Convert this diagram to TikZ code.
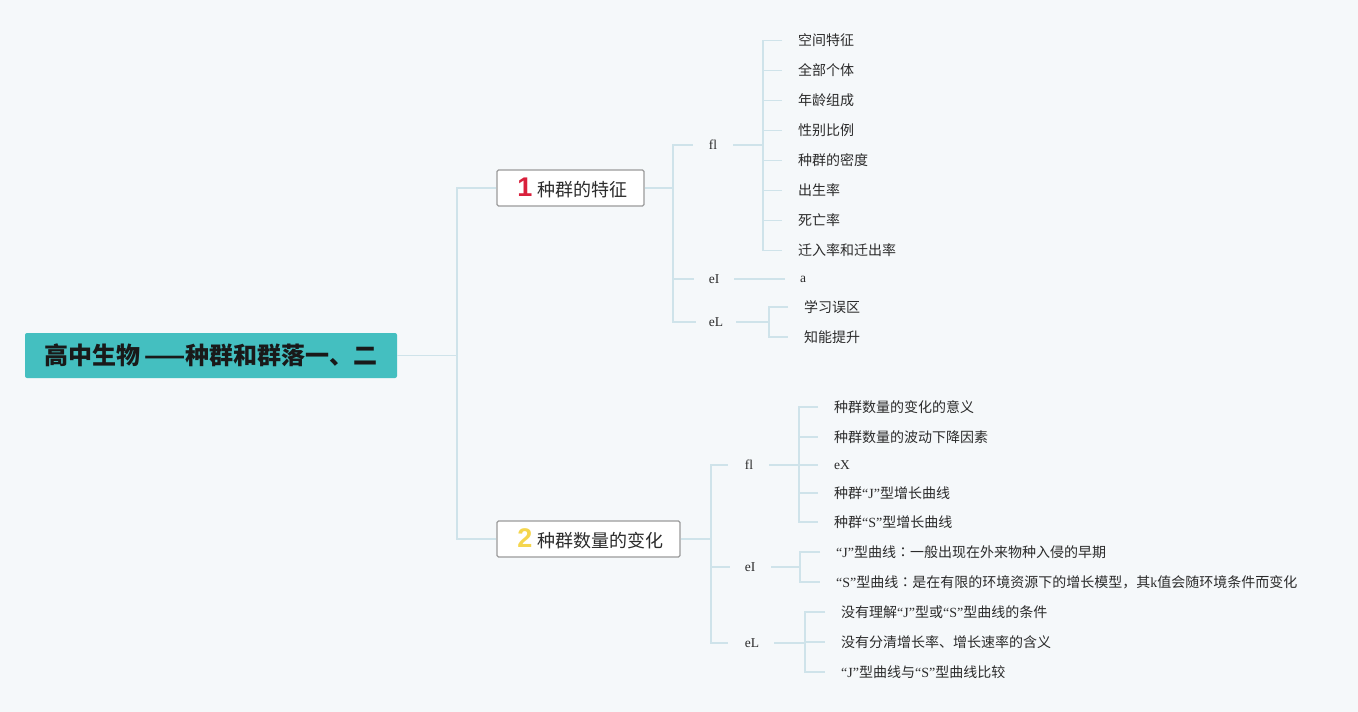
\documentclass[tikz,border=0pt]{standalone}
\usepackage{fontspec}
\setmainfont{Liberation Serif}
\newfontfamily\cjk{Noto Sans CJK SC}
\newfontfamily\cjktc{Noto Sans CJK TC}
\newfontfamily\numf{Liberation Sans}
\definecolor{bgc}{HTML}{F5F8FA}
\definecolor{linec}{HTML}{CFE3EA}
\definecolor{rootc}{HTML}{44BFC0}
\definecolor{bordc}{HTML}{9B9B9B}
\definecolor{redn}{HTML}{D9203C}
\definecolor{yelln}{HTML}{F5D64E}
\definecolor{txt}{HTML}{2B2B2B}
\newcommand\qt[1]{{\rmfamily “#1”}}
\newcommand\cco{{\cjktc ：}}
\begin{document}
\begin{tikzpicture}[x=1pt,y=-1pt,
  conn/.style={draw=linec, line width=1.3pt},
  leaf/.style={anchor=west, inner sep=0pt, text=txt, font=\cjk\fontsize{14}{16}\selectfont},
  lab/.style={inner sep=0pt, minimum width=40, minimum height=14, text=txt, font=\rmfamily\fontsize{13.5}{15}\selectfont},
  topic/.style={draw=bordc, line width=1.3pt, fill=white, rounded corners=1.5pt, minimum height=36, inner sep=0pt, text=txt, font=\cjk\fontsize{18}{20}\selectfont}]
\fill[bgc] (0,0) rectangle (1358,712);
\useasboundingbox (0,0) rectangle (1358,712);
% root and topics
\node[fill=rootc, rounded corners=2pt, minimum width=372, minimum height=45, inner sep=0pt, text=black!90,
      font=\cjk\bfseries\fontsize{24}{26}\selectfont] (root) at (211,355.5) {高中生物\hspace{4pt}——种群和群落一、二};
\node[topic, minimum width=147] (t1) at (570.5,188) {\hspace{4pt}{\numf\bfseries\fontsize{27}{27}\selectfont\color{redn}1}\hspace{5pt}种群的特征};
\node[topic, minimum width=183] (t2) at (588.5,539) {\hspace{4pt}{\numf\bfseries\fontsize{27}{27}\selectfont\color{yelln}2}\hspace{5pt}种群数量的变化};
% bus coordinates
\coordinate (b0) at (457,0);
\coordinate (b1) at (673,0);
\coordinate (b2) at (711,0);
% topic 1 labels
\node[lab] (a1) at (713,145) {fl};
\node[lab] (a2) at (714,279) {eI};
\node[lab] (a3) at (716,322) {eL};
% topic 1 leaves
\coordinate (ba1) at (763,0);
\node[leaf] (l1) at (798,40.5) {空间特征};
\node[leaf] (l2) at (798,70.5) {全部个体};
\node[leaf] (l3) at (798,100.5) {年龄组成};
\node[leaf] (l4) at (798,130.5) {性别比例};
\node[leaf] (l5) at (798,160.5) {种群的密度};
\node[leaf] (l6) at (798,190.5) {出生率};
\node[leaf] (l7) at (798,220.5) {死亡率};
\node[leaf] (l8) at (798,250.5) {迁入率和迁出率};
\node[leaf, font=\rmfamily\fontsize{13.5}{15}\selectfont] (la) at (800,279) {a};
\coordinate (ba3) at (769,0);
\node[leaf] (m1) at (804,307) {学习误区};
\node[leaf] (m2) at (804,337) {知能提升};
% topic 2 labels
\node[lab] (c1) at (749,465) {fl};
\node[lab] (c2) at (750,567) {eI};
\node[lab] (c3) at (752,643) {eL};
\coordinate (bc1) at (799,0);
\coordinate (bc2) at (800,0);
\coordinate (bc3) at (805,0);
\node[leaf] (n1) at (834,407) {种群数量的变化的意义};
\node[leaf] (n2) at (834,437) {种群数量的波动下降因素};
\node[leaf, font=\rmfamily\fontsize{13.5}{15}\selectfont] (n3) at (834,465) {eX};
\node[leaf] (n4) at (834,493) {种群\qt{J}型增长曲线};
\node[leaf] (n5) at (834,522) {种群\qt{S}型增长曲线};
\node[leaf] (p1) at (836,552) {\qt{J}型曲线\cco 一般出现在外来物种入侵的早期};
\node[leaf] (p2) at (836,582) {\qt{S}型曲线\cco 是在有限的环境资源下的增长模型，其{\rmfamily k}值会随环境条件而变化};
\node[leaf] (q1) at (841,612) {没有理解\qt{J}型或\qt{S}型曲线的条件};
\node[leaf] (q2) at (841,642) {没有分清增长率、增长速率的含义};
\node[leaf] (q3) at (841,672) {\qt{J}型曲线与\qt{S}型曲线比较};
% connectors: root
\draw[conn] (root.east) -- (b0 |- root.east);
\draw[conn] (t1.west) -- (b0 |- t1.west) -- (b0 |- t2.west) -- (t2.west);
% topic 1
\draw[conn] (t1.east) -- (b1 |- t1.east);
\draw[conn] (a1.west) -- (b1 |- a1.west) -- (b1 |- a3.west) -- (a3.west);
\draw[conn] (b1 |- a2.west) -- (a2.west);
\draw[conn] (a1.east) -- (ba1 |- a1.east);
\draw[conn] ([xshift=-16pt]l1.west) -- (ba1 |- l1.west) -- (ba1 |- l8.west) -- ([xshift=-16pt]l8.west);
\foreach \n in {l2,l3,l4,l5,l6,l7} \draw[conn] (ba1 |- \n.west) -- ([xshift=-16pt]\n.west);
\draw[conn] (a2.east) -- ([xshift=-15pt]la.west);
\draw[conn] (a3.east) -- (ba3 |- a3.east);
\draw[conn] ([xshift=-16pt]m1.west) -- (ba3 |- m1.west) -- (ba3 |- m2.west) -- ([xshift=-16pt]m2.west);
% topic 2
\draw[conn] (t2.east) -- (b2 |- t2.east);
\draw[conn] ([xshift=-1pt]c1.west) -- (b2 |- c1.west) -- (b2 |- c3.west) -- ([xshift=-4pt]c3.west);
\draw[conn] (b2 |- c2.west) -- (c2.west);
\draw[conn] (c1.east) -- (bc1 |- c1.east);
\draw[conn] ([xshift=-16pt]n1.west) -- (bc1 |- n1.west) -- (bc1 |- n5.west) -- ([xshift=-16pt]n5.west);
\foreach \n in {n2,n3,n4} \draw[conn] (bc1 |- \n.west) -- ([xshift=-16pt]\n.west);
\draw[conn] ([xshift=1pt]c2.east) -- (bc2 |- c2.east);
\draw[conn] ([xshift=-16pt]p1.west) -- (bc2 |- p1.west) -- (bc2 |- p2.west) -- ([xshift=-16pt]p2.west);
\draw[conn] ([xshift=2pt]c3.east) -- (bc3 |- c3.east);
\draw[conn] ([xshift=-16pt]q1.west) -- (bc3 |- q1.west) -- (bc3 |- q3.west) -- ([xshift=-16pt]q3.west);
\draw[conn] (bc3 |- q2.west) -- ([xshift=-16pt]q2.west);
\end{tikzpicture}
\end{document}
